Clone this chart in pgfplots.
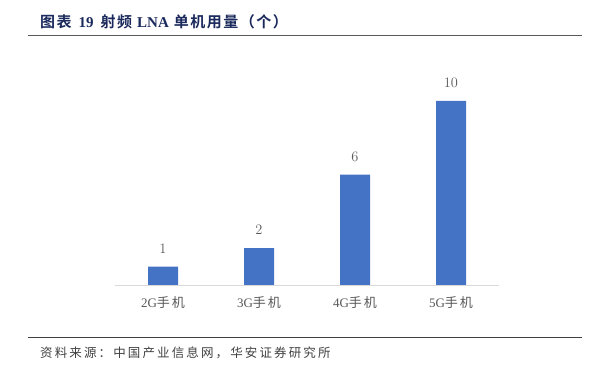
\documentclass[border=0pt]{standalone}
\usepackage{pgfplots}
\pgfplotsset{compat=1.18}
\usepackage{fontspec}
\setmainfont{Liberation Serif}
\newfontfamily\cjkt{Noto Sans CJK SC}[LetterSpace=10,BoldFont={* Bold}]
\newfontfamily\cjktick{Noto Sans CJK SC}[LetterSpace=15]
\newfontfamily\cjksp{Noto Sans CJK SC}[LetterSpace=17]
\definecolor{barblue}{HTML}{4472C4}
\definecolor{titleblue}{HTML}{1B2A5C}
\definecolor{txtgray}{HTML}{595959}
\begin{document}
\begin{tikzpicture}[x=1pt,y=1pt]
\path[use as bounding box] (0,0) rectangle (594,364);
% title
\node[anchor=west,text=titleblue,font=\fontsize{15}{17}\selectfont\bfseries,inner sep=0] at (40,342)
  {{\cjkt\bfseries 图表}\hspace{7pt}19\hspace{7pt}{\cjkt\bfseries 射频}\hspace{5pt}LNA\hspace{5pt}{\cjkt\bfseries 单机用量（个）}};
\draw[gray!70!black,line width=1.1pt] (28,328.5) -- (582,328.5);
% source
\draw[black!75,line width=0.8pt] (28,27) -- (582,27);
\node[anchor=west,text=black!75,font=\fontsize{12.5}{14}\selectfont,inner sep=0] at (40,11.5)
  {\cjksp 资料来源：中国产业信息网，华安证券研究所};
\begin{axis}[
  anchor=origin, at={(163pt,79pt)},
  x=96pt, y=18.4pt,
  xmin=-0.5, xmax=3.5, ymin=0, ymax=12,
  hide y axis,
  axis x line*=bottom,
  x axis line style={-,draw=black!15,line width=0.8pt},
  xtick=data,
  xticklabels={{2G\cjktick 手机},{3G\cjktick 手机},{4G\cjktick 手机},{5G\cjktick 手机}},
  xtick style={draw=none},
  major tick length=0pt,
  xticklabel style={font=\fontsize{13}{15}\selectfont,text=txtgray,yshift=-8pt},
  ybar, bar width=30pt,
  nodes near coords,
  nodes near coords style={font=\fontsize{14}{16}\selectfont,text=txtgray,yshift=10pt},
  clip=false,
]
\addplot[fill=barblue,draw=none] coordinates {(0,1) (1,2) (2,6) (3,10)};
\end{axis}
\end{tikzpicture}
\end{document}
